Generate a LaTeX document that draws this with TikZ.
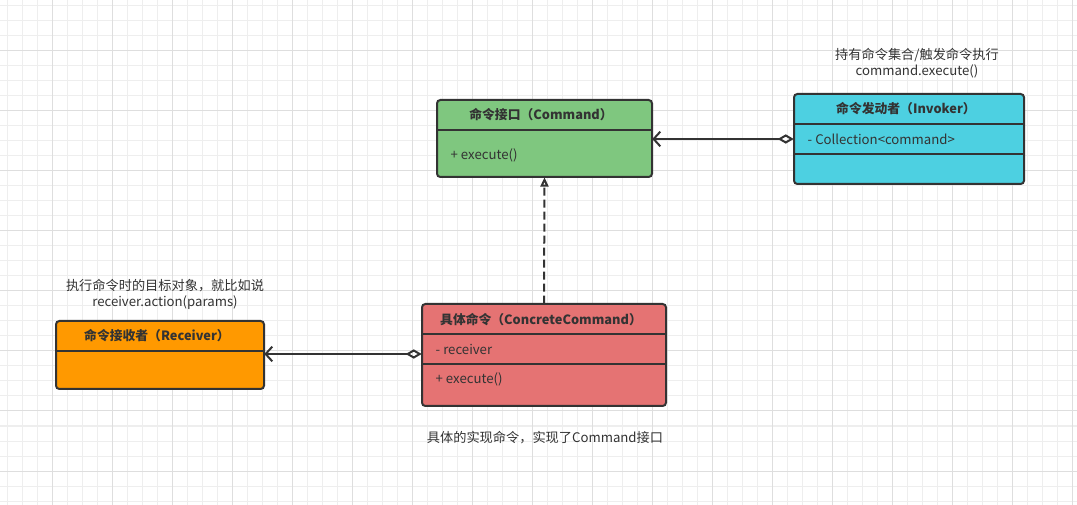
\documentclass[tikz,border=0pt]{standalone}
\usepackage{fontspec}
\setmainfont{Noto Sans CJK SC}
\usetikzlibrary{arrows.meta}
\definecolor{gridminor}{HTML}{EEEEEE}
\definecolor{gridmajor}{HTML}{DEDEDE}
\definecolor{stroke}{HTML}{333333}
\definecolor{txt}{HTML}{333333}
\definecolor{cmdfill}{HTML}{7FC77F}
\definecolor{invfill}{HTML}{4DD0E1}
\definecolor{recfill}{HTML}{FF9900}
\definecolor{ccfill}{HTML}{E57373}
\tikzset{
  classbox/.style={draw=stroke, line width=1.5pt, rounded corners=2.5pt, inner sep=0pt},
  divider/.style={draw=stroke, line width=1.5pt},
  title/.style={font=\fontsize{9.6}{11}\selectfont\bfseries, text=txt},
  member/.style={font=\fontsize{9.9}{11}\selectfont, text=txt, anchor=west},
  note/.style={font=\fontsize{9.9}{12}\selectfont, text=txt, align=center},
  conn/.style={draw=stroke, line width=1.5pt},
}
\begin{document}
\begin{tikzpicture}[x=0.75pt,y=-0.75pt]
\useasboundingbox (0,0) rectangle (1077,505);
\fill[white] (0,0) rectangle (1077,505);
% grid
\foreach \x in {7,22,...,1077} \draw[gridminor, line width=0.75pt] (\x,0) -- (\x,505);
\foreach \y in {6,21,...,505} \draw[gridminor, line width=0.75pt] (0,\y) -- (1077,\y);
\foreach \x in {52,112,...,1077} \draw[gridmajor, line width=0.75pt] (\x,0) -- (\x,505);
\foreach \y in {51,111,...,505} \draw[gridmajor, line width=0.75pt] (0,\y) -- (1077,\y);

% Command
\path[classbox, fill=cmdfill] (437,100) rectangle (652,177);
\node[inner sep=0pt, minimum width=215*0.75pt, minimum height=77*0.75pt] (cmd) at (544.5,138.5) {};
\draw[divider] (437,130) -- (652,130);
\node[title] (cmdt) at (541,115) {命令接口（Command）};
\node[member] (cmdm) at (446,155) {+ execute()};

% Invoker
\path[classbox, fill=invfill] (794,94) rectangle (1024,184);
\node[inner sep=0pt, minimum width=230*0.75pt, minimum height=90*0.75pt] (inv) at (909,139) {};
\draw[divider] (794,124.5) -- (1024,124.5);
\draw[divider] (794,154.5) -- (1024,154.5);
\node[title] (invt) at (906,109) {命令发动者（Invoker）};
\node[member] (invm) at (803,139) {- Collection<command>};

% Receiver
\path[classbox, fill=recfill] (56,321) rectangle (264,389);
\node[inner sep=0pt, minimum width=208*0.75pt, minimum height=68*0.75pt] (rec) at (160,355) {};
\draw[divider] (56,351) -- (264,351);
\node[title] (rect) at (157,336) {命令接收者（Receiver）};

% ConcreteCommand
\path[classbox, fill=ccfill] (422,304) rectangle (666,406);
\node[inner sep=0pt, minimum width=244*0.75pt, minimum height=102*0.75pt] (cc) at (544,355) {};
\draw[divider] (422,334) -- (666,334);
\draw[divider] (422,364) -- (666,364);
\node[title] (cct) at (541,320) {具体命令（ConcreteCommand）};
\node[member] (ccm1) at (431,349) {- receiver};
\node[member] (ccm2) at (431,379) {+ execute()};

% notes
\node[note] (n1) at (917,63) {持有命令集合/触发命令执行\\command.execute()};
\node[note] (n2) at (165,294) {执行命令时的目标对象，就比如说\\receiver.action(params)};
\node[note] (n3) at (545,438) {具体的实现命令，实现了Command接口};

% connectors
\coordinate (invL) at (inv.west |- 0,139);
\coordinate (cmdR) at (cmd.east |- 0,139);
\draw[conn, {Diamond[open, length=12pt, width=7pt]}-{Straight Barb[length=5pt, width=11pt]}] (invL) -- (cmdR);
\coordinate (ccL) at (cc.west |- 0,354);
\coordinate (recR) at (rec.east |- 0,354);
\draw[conn, {Diamond[open, length=12pt, width=7pt]}-{Straight Barb[length=5pt, width=11pt]}] (ccL) -- (recR);
\draw[conn, dash pattern=on 6pt off 3pt, -{Triangle[open, length=7pt, width=6pt]}] (cc.north) -- (cmd.south);
\end{tikzpicture}
\end{document}
